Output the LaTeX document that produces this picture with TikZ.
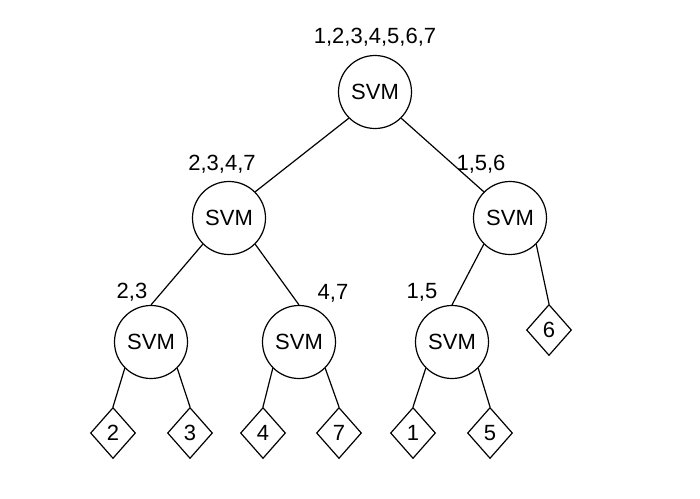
\documentclass[tikz,border=0pt]{standalone}
\usepackage{fontspec}
\setmainfont{Liberation Sans}
\usetikzlibrary{shapes.geometric}
\tikzstyle{line} = [line width=1.2pt]
\tikzstyle{svm} = [circle, draw=black, line width=1.2pt, minimum size=73pt, inner sep=0pt, font=\fontsize{22}{26}\selectfont]
\tikzstyle{leaf} = [diamond, draw=black, line width=1.2pt, minimum width=45pt, minimum height=51pt, inner sep=0pt, font=\fontsize{22}{26}\selectfont]
\tikzstyle{classes} = [anchor=base, inner sep=0pt, font=\fontsize{22}{26}\selectfont]

\begin{document}
\begin{tikzpicture}[x=1pt, y=-1pt]
\useasboundingbox (0,0) rectangle (700,498);

\node (root) [svm] at (375,92) {SVM};
\node (svml) [svm] at (229,218) {SVM};
\node (svmr) [svm] at (510,218) {SVM};
\node (svmll) [svm] at (151,342) {SVM};
\node (svmlr) [svm] at (299,342) {SVM};
\node (svmrl) [svm] at (452,342) {SVM};

\node (c6) [leaf] at (549,330) {6};
\node (c2) [leaf] at (113,433) {2};
\node (c3) [leaf] at (190,433) {3};
\node (c4) [leaf] at (263,433) {4};
\node (c7) [leaf] at (339,433) {7};
\node (c1) [leaf] at (413,433) {1};
\node (c5) [leaf] at (490,433) {5};

% class sets
\node (s_root) [classes] at (375,43) {1,2,3,4,5,6,7};
\node (s_l) [classes] at (222,170) {2,3,4,7};
\node (s_r) [classes] at (481,170) {1,5,6};
\node (s_ll) [classes] at (132,298) {2,3};
\node (s_lr) [classes] at (333,299) {4,7};
\node (s_rl) [classes] at (422,298) {1,5};

\draw [line] (root.south west) -- (svml.north east);
\draw [line] (root.south east) -- (svmr.north west);
\draw [line] (svml.south west) -- (svmll.north);
\draw [line] (svml.south east) -- (svmlr.north);
\draw [line] (svmr.south west) -- (svmrl.north);
\draw [line] (svmr.south east) -- (c6.north);

\draw [line] (svmll.south west) -- (c2.north);
\draw [line] (svmll.south east) -- (c3.north);
\draw [line] (svmlr.south west) -- (c4.north);
\draw [line] (svmlr.south east) -- (c7.north);
\draw [line] (svmrl.south west) -- (c1.north);
\draw [line] (svmrl.south east) -- (c5.north);

\end{tikzpicture}
\end{document}
